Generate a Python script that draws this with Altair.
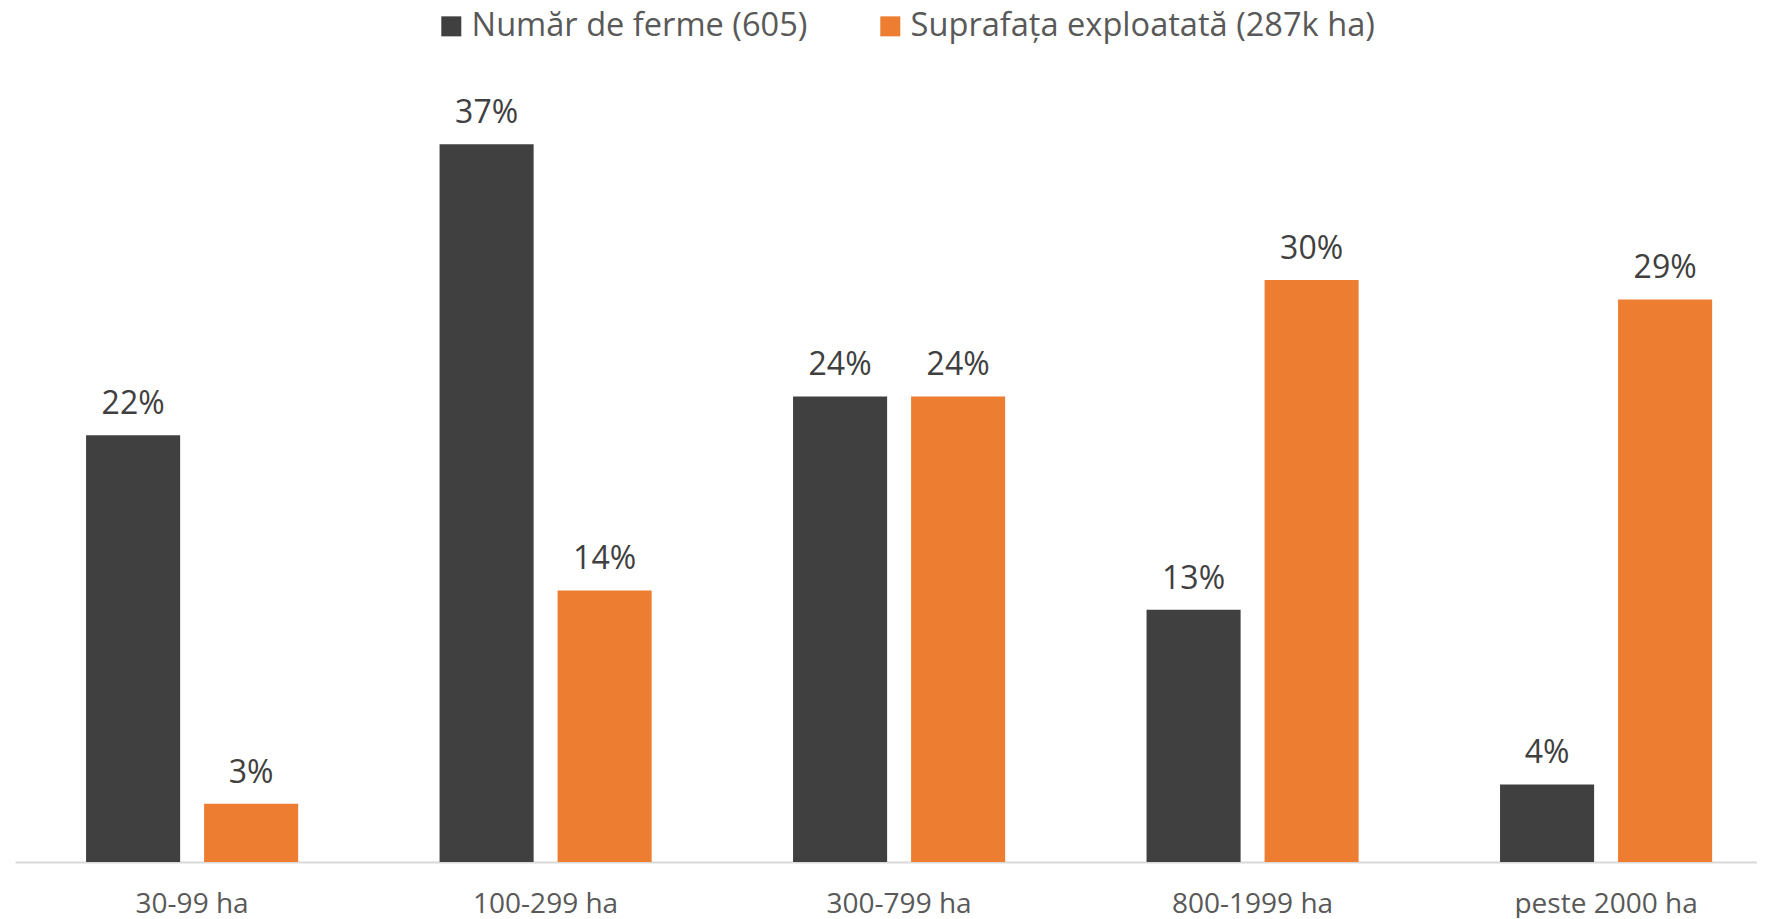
import altair as alt
import pandas as pd

categories = ["30-99 ha", "100-299 ha", "300-799 ha", "800-1999 ha", "peste 2000 ha"]
series_names = ["Număr de ferme (605)", "Suprafața exploatată (287k ha)"]
ferme = [22, 37, 24, 13, 4]
suprafata = [3, 14, 24, 30, 29]
colors = ["#404040", "#ED7D31"]

rows = []
for i, c in enumerate(categories):
    rows.append({"cat": c, "serie": series_names[0], "val": ferme[i], "label": f"{ferme[i]}%"})
    rows.append({"cat": c, "serie": series_names[1], "val": suprafata[i], "label": f"{suprafata[i]}%"})
df = pd.DataFrame(rows)

FONT = "Open Sans"

x = alt.X("cat:N", sort=categories, title=None,
          scale=alt.Scale(paddingInner=0.4, paddingOuter=0.164, align=0.613),
          axis=alt.Axis(labelAngle=0, ticks=False, domainColor="#d9d9d9", domainWidth=2,
                        labelFont=FONT, labelFontSize=28, labelColor="#595959",
                        labelPadding=28, labelLimit=400, grid=False))
xo = alt.XOffset("serie:N", sort=series_names,
                 scale=alt.Scale(paddingInner=0.203, paddingOuter=0))
y = alt.Y("val:Q", scale=alt.Scale(domain=[0, 40]), axis=None)

bars = alt.Chart(df).mark_bar().encode(
    x=x, xOffset=xo, y=y,
    color=alt.Color("serie:N", sort=series_names,
                    scale=alt.Scale(domain=series_names, range=colors),
                    legend=alt.Legend(title=None, orient="none", direction="horizontal",
                                      legendX=420, legendY=-76, symbolType="square",
                                      symbolSize=400, symbolStrokeWidth=0, symbolOpacity=1,
                                      labelFont=FONT, labelFontSize=32.6, labelColor="#595959",
                                      labelOffset=4, columnPadding=66, labelLimit=700)),
)

text = alt.Chart(df).mark_text(baseline="middle", dy=-31, font=FONT, fontSize=32,
                               color="#404040").encode(
    x=x, xOffset=xo, y=y, text="label:N")

chart = (bars + text).properties(
    width=1742, height=776,
    background="white",
    padding={"left": 7, "top": 2, "right": 0, "bottom": 0},
).configure_view(stroke="transparent", strokeWidth=0)

chart.save("out.html", embed_options={"renderer": "svg", "actions": False})
